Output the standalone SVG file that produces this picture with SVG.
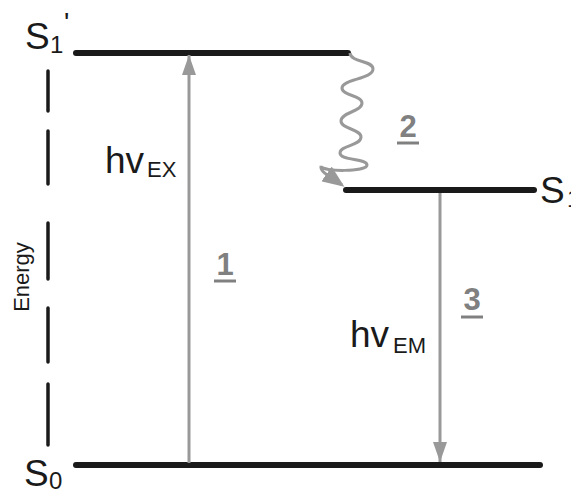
<svg xmlns="http://www.w3.org/2000/svg" width="571" height="493" viewBox="0 0 571 493">
<style>
.lvl{stroke:#1a1a1a;stroke-width:6;stroke-linecap:round;fill:none}
.dash{stroke:#1a1a1a;stroke-width:3.5;stroke-linecap:round;fill:none}
.arr{stroke:#999;stroke-width:3;fill:none}
.lbl{font-family:"Liberation Sans",Arial,sans-serif;fill:#1a1a1a}
.num{font-family:"Liberation Sans",Arial,sans-serif;font-weight:bold;font-size:31px;fill:#808080;text-anchor:middle}
.ul{stroke:#808080;stroke-width:3}
</style>
<defs>
<marker id="ah" markerUnits="userSpaceOnUse" markerWidth="22" markerHeight="14" viewBox="0 0 22 14" refX="20" refY="7" orient="auto">
<path d="M0,0 L20,7 L0,14 Z" fill="#999"/>
</marker>
<marker id="ahw" markerUnits="userSpaceOnUse" markerWidth="24" markerHeight="18" viewBox="0 0 24 18" refX="19" refY="9" orient="auto">
<path d="M0,0 L22,9 L0,18 Z" fill="#999"/>
</marker>
</defs>
<g id="axis">
<line class="dash" x1="48" y1="71" x2="48" y2="111"/>
<line class="dash" x1="48" y1="131" x2="48" y2="184"/>
<line class="dash" x1="48" y1="223" x2="48" y2="279"/>
<line class="dash" x1="48" y1="308" x2="48" y2="362"/>
<line class="dash" x1="48" y1="384" x2="48" y2="445"/>
<text class="lbl" font-size="22" transform="translate(29,277) rotate(-90)" text-anchor="middle">Energy</text>
</g>
<g id="S1prime">
<line class="lvl" x1="76" y1="53" x2="348" y2="53"/>
<text class="lbl" font-size="37" x="25" y="49">S</text>
<text class="lbl" font-size="24" x="50" y="53">1</text>
<text class="lbl" font-size="28" x="64" y="32">'</text>
</g>
<g id="S1">
<line class="lvl" x1="346" y1="190" x2="534" y2="190"/>
<text class="lbl" font-size="37" x="540" y="203">S</text>
<text class="lbl" font-size="24" x="567" y="207">1</text>
</g>
<g id="S0">
<line class="lvl" x1="76" y1="465" x2="540" y2="465"/>
<text class="lbl" font-size="37" x="24" y="486">S</text>
<text class="lbl" font-size="24" x="49" y="489">0</text>
</g>
<g id="connectors">
<line class="arr" x1="189" y1="463" x2="189" y2="55" marker-end="url(#ah)"/>
<line class="arr" x1="440" y1="193" x2="440" y2="462" marker-end="url(#ah)"/>
<path class="arr" d="M350,53 C351,63 373,60 373,69 C373,79 342,79 342,88 C342,96 362,95 362,103 C362,112 341,112 341,121 C341,129 361,129 361,137 C361,146 340,145 340,153 C340,161 367,158 367,165 C367,172 322,172 321,166 C320,172 328,175 342,185" marker-end="url(#ahw)"/>
</g>
<g id="label1">
<text class="lbl" font-size="37" x="105" y="173">hv</text>
<text class="lbl" font-size="22" x="147" y="177">EX</text>
<text class="num" x="225" y="275">1</text>
<line class="ul" x1="214" y1="281" x2="236" y2="281"/>
</g>
<g id="label2">
<text class="num" x="408" y="137">2</text>
<line class="ul" x1="397" y1="143" x2="419" y2="143"/>
</g>
<g id="label3">
<text class="lbl" font-size="37" x="350" y="347">hv</text>
<text class="lbl" font-size="22" x="393" y="353">EM</text>
<text class="num" x="472" y="310">3</text>
<line class="ul" x1="461" y1="317" x2="483" y2="317"/>
</g>
</svg>
